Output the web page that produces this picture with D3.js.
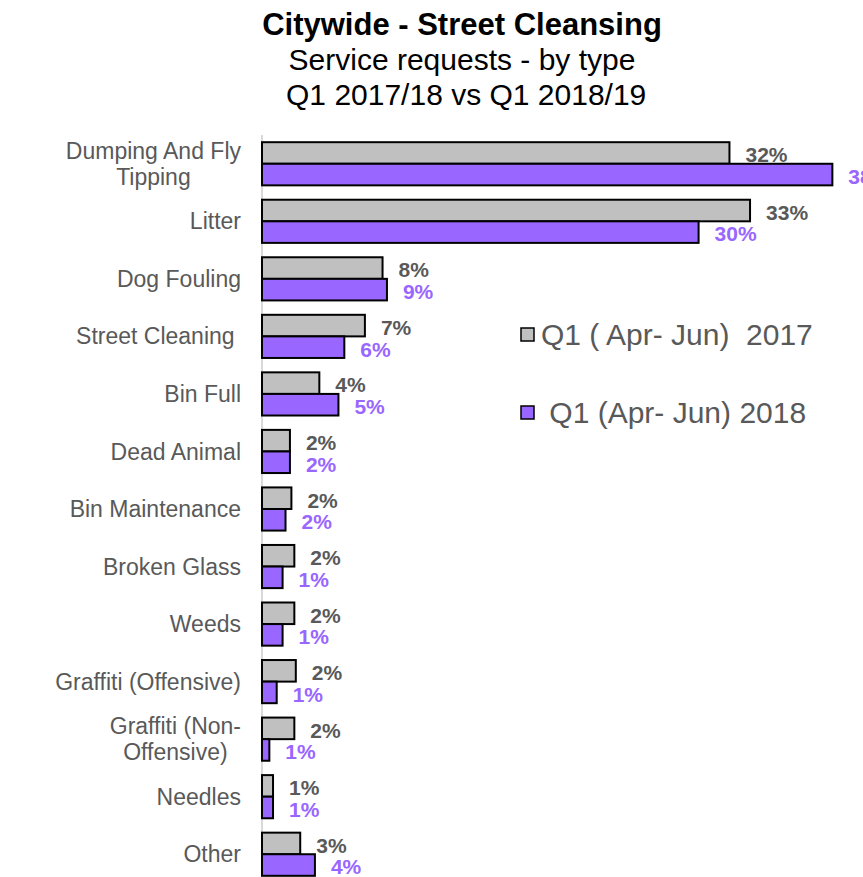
<!DOCTYPE html>
<html>
<head>
<meta charset="utf-8">
<script src="https://cdn.jsdelivr.net/npm/d3@7"></script>
<style>
  html, body { margin: 0; padding: 0; background: #fff; }
  svg { display: block; font-family: "Liberation Sans", Arial, sans-serif; }
</style>
</head>
<body>
<div id="chart"></div>
<script>
// ── Data ──────────────────────────────────────
const categories = [
  "Dumping And Fly\nTipping", "Litter", "Dog Fouling", "Street Cleaning ",
  "Bin Full", "Dead Animal", "Bin Maintenance", "Broken Glass", "Weeds",
  "Graffiti (Offensive)", "Graffiti (Non-\nOffensive)", "Needles", "Other"
];
const seriesNames = ["Q1 ( Apr- Jun)  2017", " Q1 (Apr- Jun) 2018"];
// share of requests, in percent (bar lengths)
const values2017 = [31.8, 33.2, 8.2, 7.0, 3.9, 1.9, 2.0, 2.2, 2.2, 2.3, 2.2, 0.75, 2.6];
const values2018 = [38.8, 29.7, 8.5, 5.6, 5.2, 1.9, 1.6, 1.4, 1.4, 1.0, 0.5, 0.75, 3.6];
// data labels as printed on the chart
const labels2017 = ["32%", "33%", "8%", "7%", "4%", "2%", "2%", "2%", "2%", "2%", "2%", "1%", "3%"];
const labels2018 = ["38%", "30%", "9%", "6%", "5%", "2%", "2%", "1%", "1%", "1%", "1%", "1%", "4%"];
const titleLines = ["Citywide - Street Cleansing", "Service requests - by type", " Q1 2017/18 vs Q1 2018/19"];

const W = 863, H = 877;
const fills  = ["#c0c0c0", "#9966ff"];
const labelC = ["#595959", "#9966ff"];

const svg = d3.select("#chart").append("svg")
  .attr("width", W).attr("height", H);

// ── Title ─────────────────────────────────────
svg.selectAll(".title")
  .data(titleLines)
  .join("text")
  .attr("x", 462)
  .attr("y", (d, i) => 35 + i * 35)
  .attr("text-anchor", "middle")
  .attr("font-size", (d, i) => i === 0 ? "31px" : "30px")
  .attr("font-weight", (d, i) => i === 0 ? "bold" : "normal")
  .attr("fill", "#000")
  .style("white-space", "pre")
  .text(d => d);

// ── Scales ────────────────────────────────────
const x = d3.scaleLinear().domain([0, 40]).range([262, 850]);
const y = d3.scaleBand().domain(categories).range([135, 883])
  .paddingInner(0.25).paddingOuter(0.125);
const ys = d3.scaleBand().domain([0, 1]).range([0, y.bandwidth()]);

const rows = categories.map((c, i) => ({
  cat: c,
  vals: [values2017[i], values2018[i]],
  labs: [labels2017[i], labels2018[i]]
}));

// ── Axis line ─────────────────────────────────
svg.append("line")
  .attr("x1", x(0)).attr("x2", x(0))
  .attr("y1", 135).attr("y2", H)
  .attr("stroke", "#d9d9d9").attr("stroke-width", 2);

// ── Bars ──────────────────────────────────────
const groups = svg.selectAll(".grp")
  .data(rows)
  .join("g")
  .attr("transform", d => `translate(0,${y(d.cat)})`);

groups.selectAll("rect")
  .data(d => d.vals.map((v, s) => ({ v, s, lab: d.labs[s] })))
  .join("rect")
  .attr("x", x(0))
  .attr("y", d => ys(d.s))
  .attr("width", d => x(d.v) - x(0))
  .attr("height", ys.bandwidth())
  .attr("fill", d => fills[d.s])
  .attr("stroke", "#000")
  .attr("stroke-width", 2);

groups.selectAll(".val")
  .data(d => d.vals.map((v, s) => ({ v, s, lab: d.labs[s] })))
  .join("text")
  .attr("x", d => x(d.v) + 16)
  .attr("y", d => ys(d.s) + ys.bandwidth() / 2 + 2)
  .attr("dy", "0.35em")
  .attr("font-size", "21px")
  .attr("font-weight", "bold")
  .attr("fill", d => labelC[d.s])
  .text(d => d.lab);

// ── Category labels ───────────────────────────
const labelRight = 241;
const catLabels = svg.selectAll(".cat")
  .data(categories)
  .join("text")
  .attr("font-size", "23px")
  .attr("fill", "#595959")
  .style("white-space", "pre");

catLabels.each(function(d) {
  const lines = d.split("\n");
  const t = d3.select(this);
  const cy = y(d) + y.bandwidth() / 2;
  const lh = 26;
  lines.forEach((ln, i) => {
    t.append("tspan")
      .attr("y", cy + (i - (lines.length - 1) / 2) * lh)
      .attr("dy", "0.35em")
      .text(ln);
  });
  if (lines.length === 1) {
    t.attr("text-anchor", "end").selectAll("tspan").attr("x", labelRight);
  } else {
    const widths = [];
    t.selectAll("tspan").each(function() { widths.push(this.getComputedTextLength()); });
    const cx = labelRight - d3.max(widths) / 2;
    t.attr("text-anchor", "middle").selectAll("tspan").attr("x", cx);
  }
});

// ── Legend ────────────────────────────────────
const legend = svg.selectAll(".leg")
  .data(seriesNames)
  .join("g")
  .attr("transform", (d, i) => `translate(521,${328 + i * 78})`);

legend.append("rect")
  .attr("width", 13).attr("height", 13)
  .attr("fill", (d, i) => fills[i])
  .attr("stroke", "#000")
  .attr("stroke-width", 1.5);

legend.append("text")
  .attr("x", 20)
  .attr("y", 6.5)
  .attr("dy", "0.35em")
  .attr("font-size", "30px")
  .attr("fill", "#595959")
  .style("white-space", "pre")
  .text(d => d);
</script>
</body>
</html>
